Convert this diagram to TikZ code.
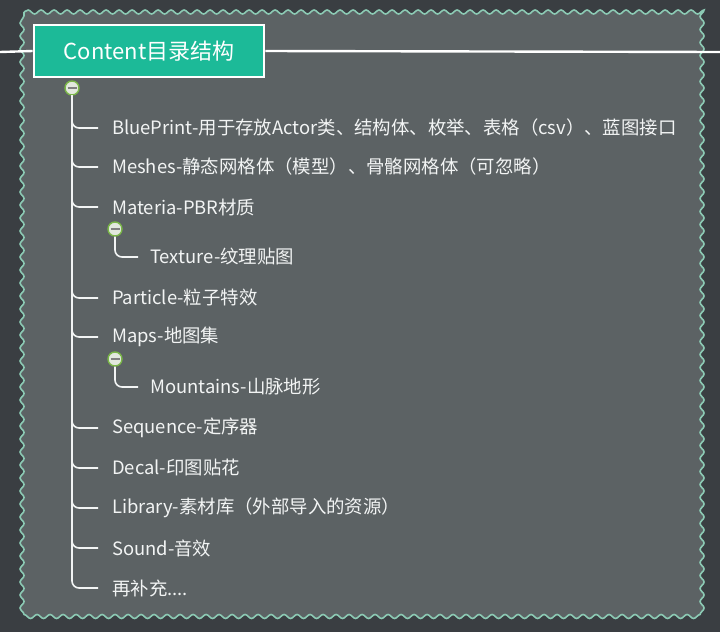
\documentclass[tikz,border=0pt]{standalone}
\usepackage{fontspec}
\setmainfont{Noto Sans CJK SC}
\usetikzlibrary{positioning,decorations.pathmorphing}
\definecolor{bgdark}{RGB}{58,62,66}
\definecolor{panelgray}{RGB}{92,98,100}
\definecolor{wavegreen}{RGB}{140,202,180}
\definecolor{teal}{RGB}{28,186,152}
\definecolor{foldgreen}{RGB}{122,182,72}
\definecolor{foldfill}{RGB}{226,232,222}
\definecolor{itemtext}{RGB}{242,244,244}
\tikzset{font=\fontsize{18.4}{22}\selectfont}
\tikzset{
  item/.style={anchor=west, text=itemtext, inner sep=0pt},
  branch/.style={draw=itemtext, line width=1.6pt, rounded corners=7pt, shorten >=14pt},
  fold/.style={circle, draw=foldgreen, fill=foldfill, line width=1.4pt,
    minimum size=14pt, inner sep=0pt,
    path picture={\draw[gray, line width=1.5pt]
      ([xshift=-4.5pt]path picture bounding box.center) --
      ([xshift=4.5pt]path picture bounding box.center);}},
  titlebox/.style={fill=teal, draw=white, line width=2.6pt, text=white,
    minimum width=230pt, minimum height=52pt, font=\fontsize{22}{26}\selectfont},
  wavy/.style={decorate, decoration={snake, segment length=13pt, amplitude=2pt}}
}

\begin{document}
\begin{tikzpicture}[x=1pt, y=-1pt]
\useasboundingbox (0,0) rectangle (720,632);
\fill[bgdark] (0,0) rectangle (720,632);
\path[fill=panelgray, draw=wavegreen, line width=1.6pt, wavy]
  (24,12) -- (704,12) -- (704,612) -- (24,612) -- (24,12);

% title and main line
\node[titlebox] (title) at (149,51) {Content目录结构};
\coordinate (lend) at (0,52);
\coordinate (rend) at (720,52);
\draw[white, line width=2.4pt] (lend) -- (title.west) (title.east) -- (rend);

% first level
\node[fold] (f0) at (72,88) {};
\node[item] (bp) at (112,128) {BluePrint-用于存放Actor类、结构体、枚举、表格（csv）、蓝图接口};
\node[item] (mesh) at (112,167) {Meshes-静态网格体（模型）、骨骼网格体（可忽略）};
\node[item] (mat) at (112,207) {Materia-PBR材质};
\node[item] (part) at (112,298) {Particle-粒子特效};
\node[item] (maps) at (112,337) {Maps-地图集};
\node[item] (seq) at (112,428) {Sequence-定序器};
\node[item] (decal) at (112,468) {Decal-印图贴花};
\node[item] (lib) at (112,508) {Library-素材库（外部导入的资源）};
\node[item] (snd) at (112,548) {Sound-音效};
\node[item] (more) at (112,588) {再补充....};
\foreach \n in {bp,mesh,mat,part,maps,seq,decal,lib,snd,more}
  \draw[branch] (f0.south) |- (\n.west);

% second level
\node[fold] (f1) at (115,229) {};
\node[item] (tex) at (150,257) {Texture-纹理贴图};
\draw[branch, shorten >=12pt] (f1.south) |- (tex.west);
\node[fold] (f2) at (115,359) {};
\node[item] (mtn) at (150,387) {Mountains-山脉地形};
\draw[branch, shorten >=12pt] (f2.south) |- (mtn.west);
\end{tikzpicture}
\end{document}
